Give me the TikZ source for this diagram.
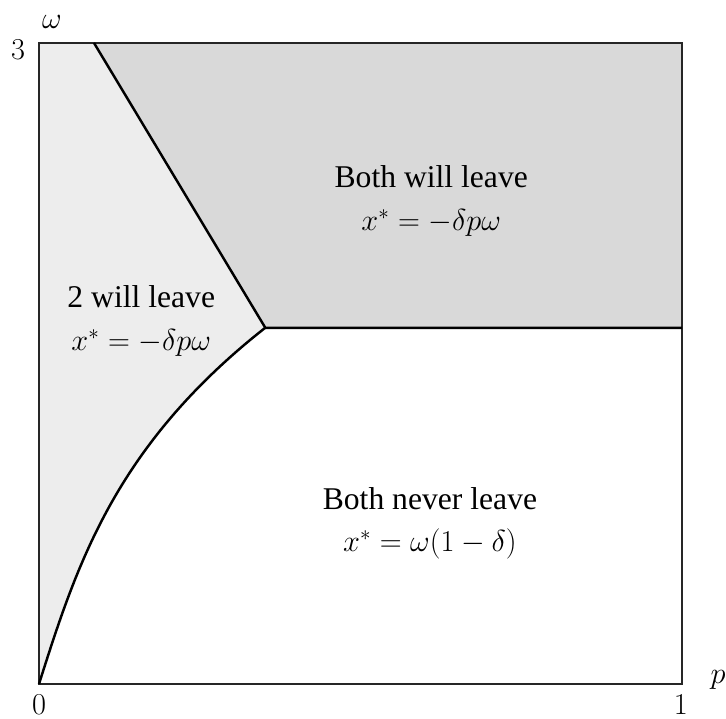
\documentclass[tikz,border=0pt]{standalone}
\usepackage{fontspec}
\setmainfont{Liberation Serif}
\begin{document}
\begin{tikzpicture}[x=12.86cm,y=4.274cm,font=\fontsize{18}{24}\selectfont,
 bdry/.style={line width=1.4pt,line join=round},
 boxline/.style={line width=0.8pt,black!85},
 lite/.style={fill=black!7},
 dark/.style={fill=black!15},
 lbl/.style={align=center,inner sep=0pt}]
\useasboundingbox (-0.78cm,-0.70cm) rectangle (13.74cm,13.68cm);
\coordinate (o) at (0,0);
\coordinate (tp) at (0.352,5/3);
\coordinate (top) at (0.0855,3);
\coordinate (rt) at (1,5/3);
% shaded regions
\fill[dark] (top) -- (tp) -- (rt) -- (1,3) -- cycle;
\fill[lite] (o) -- plot[domain=0:5/3,samples=60,variable=\w] ({\w*(0.1055+0.038*\w*\w)},\w)
  -- (tp) -- (top) -- (0,3) -- cycle;
% frame
\draw[boxline] (0,0) rectangle (1,3);
% boundaries
\draw[bdry] plot[domain=0:5/3,samples=60,variable=\w] ({\w*(0.1055+0.038*\w*\w)},\w);
\draw[bdry] (top) -- (tp) -- (rt);
% axis labels
\node (wlab) at (0.0202,3.098) {$\omega$};
\node (three) at (-0.0327,2.967) {$3$};
\node (zero) at (0,-0.098) {$0$};
\node (one) at (0.998,-0.098) {$1$};
\node (plab) at (1.056,0.019) {$p$};
% region labels
\node[lbl] (both) at (0.61,2.26) {Both will leave\\$x^* = -\delta p\omega$};
\node[lbl] (two) at (0.159,1.699) {2 will leave\\$x^* = -\delta p\omega$};
\node[lbl] (never) at (0.608,0.753) {Both never leave\\$x^* = \omega(1-\delta)$};
\end{tikzpicture}
\end{document}
